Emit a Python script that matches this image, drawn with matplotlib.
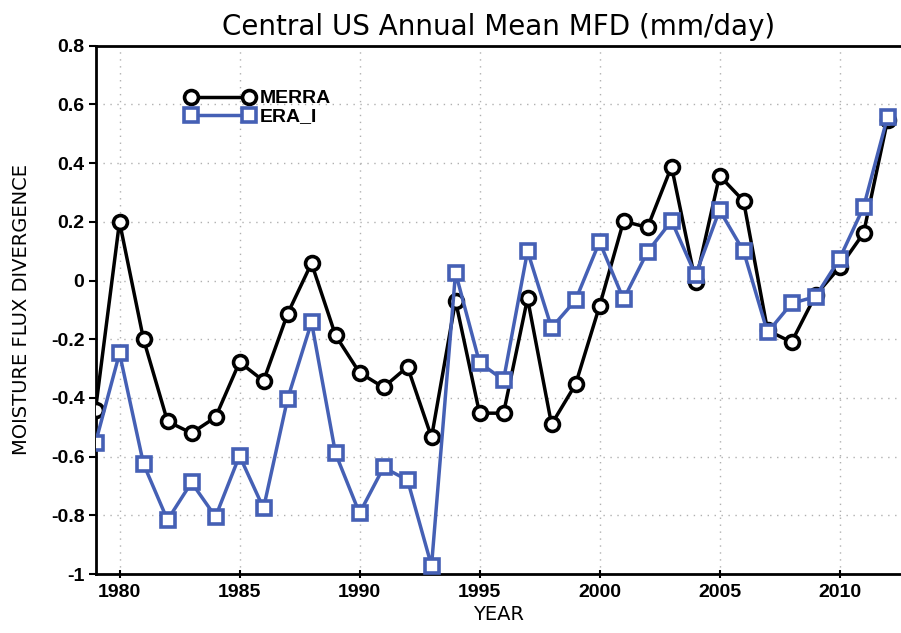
import numpy as np
import matplotlib
matplotlib.use('Agg')
import matplotlib.pyplot as plt
from matplotlib.ticker import FuncFormatter

years = np.arange(1979, 2013)
merra = [-0.44, 0.20, -0.20, -0.48, -0.52, -0.466, -0.278, -0.342, -0.114, 0.059,
         -0.187, -0.314, -0.364, -0.294, -0.534, -0.069, -0.452, -0.452, -0.061, -0.49,
         -0.354, -0.087, 0.202, 0.181, 0.388, -0.006, 0.357, 0.271, -0.17, -0.21,
         -0.05, 0.045, 0.161, 0.547]
era_i = [-0.553, -0.248, -0.625, -0.816, -0.688, -0.805, -0.597, -0.776, -0.404, -0.142,
         -0.589, -0.793, -0.637, -0.68, -0.972, 0.027, -0.28, -0.339, 0.10, -0.161,
         -0.067, 0.132, -0.064, 0.098, 0.203, 0.019, 0.24, 0.10, -0.177, -0.078,
         -0.055, 0.074, 0.25, 0.558]
xticks = [1980, 1985, 1990, 1995, 2000, 2005, 2010]
yticks = [-1, -0.8, -0.6, -0.4, -0.2, 0, 0.2, 0.4, 0.6, 0.8]

blue = '#4560b5'

fig = plt.figure(figsize=(9.01, 6.33), dpi=100)
ax = fig.add_axes([0.106, 0.0932, 0.894, 0.8346])

ax.plot(years, merra, color='black', lw=2.5, marker='o', ms=10,
        mfc='white', mec='black', mew=2.6, label='MERRA', zorder=3)
ax.plot(years, era_i, color=blue, lw=2.5, marker='s', ms=10,
        mfc='white', mec=blue, mew=2.6, label='ERA_I', zorder=4)

ax.set_xlim(1979, 2012.56)
ax.set_ylim(-1, 0.8)
ax.set_xticks(xticks)
ax.set_yticks(yticks)
ax.yaxis.set_major_formatter(FuncFormatter(lambda v, p: '%g' % round(v, 2)))
ax.grid(True, ls=(0, (1, 4)), color='#b0b0b0', lw=1)
ax.set_axisbelow(True)

for lbl in ax.get_xticklabels() + ax.get_yticklabels():
    lbl.set_fontfamily('Liberation Sans')
    lbl.set_fontweight('bold')
    lbl.set_fontsize(14)
ax.tick_params(axis='x', direction='inout', length=6, width=1.5, pad=4)
ax.tick_params(axis='y', direction='out', length=5, width=1.5, pad=3)

for s in ['left', 'bottom', 'top']:
    ax.spines[s].set_linewidth(2)
ax.spines['right'].set_visible(False)

ax.set_title('Central US Annual Mean MFD (mm/day)', fontsize=20, pad=8,
             fontfamily='DejaVu Sans')
ax.set_xlabel('YEAR', fontsize=14, labelpad=3, fontfamily='DejaVu Sans')
ax.set_ylabel('MOISTURE FLUX DIVERGENCE', fontsize=14, labelpad=14,
              fontfamily='DejaVu Sans')

leg = ax.legend(loc='upper left', bbox_to_anchor=(0.099, 0.935), frameon=False,
                numpoints=2, handlelength=3.6, handletextpad=0.25,
                labelspacing=0.02, borderpad=0,
                prop={'family': 'Liberation Sans', 'weight': 'bold', 'size': 14})

fig.savefig('out.png', dpi=100)
